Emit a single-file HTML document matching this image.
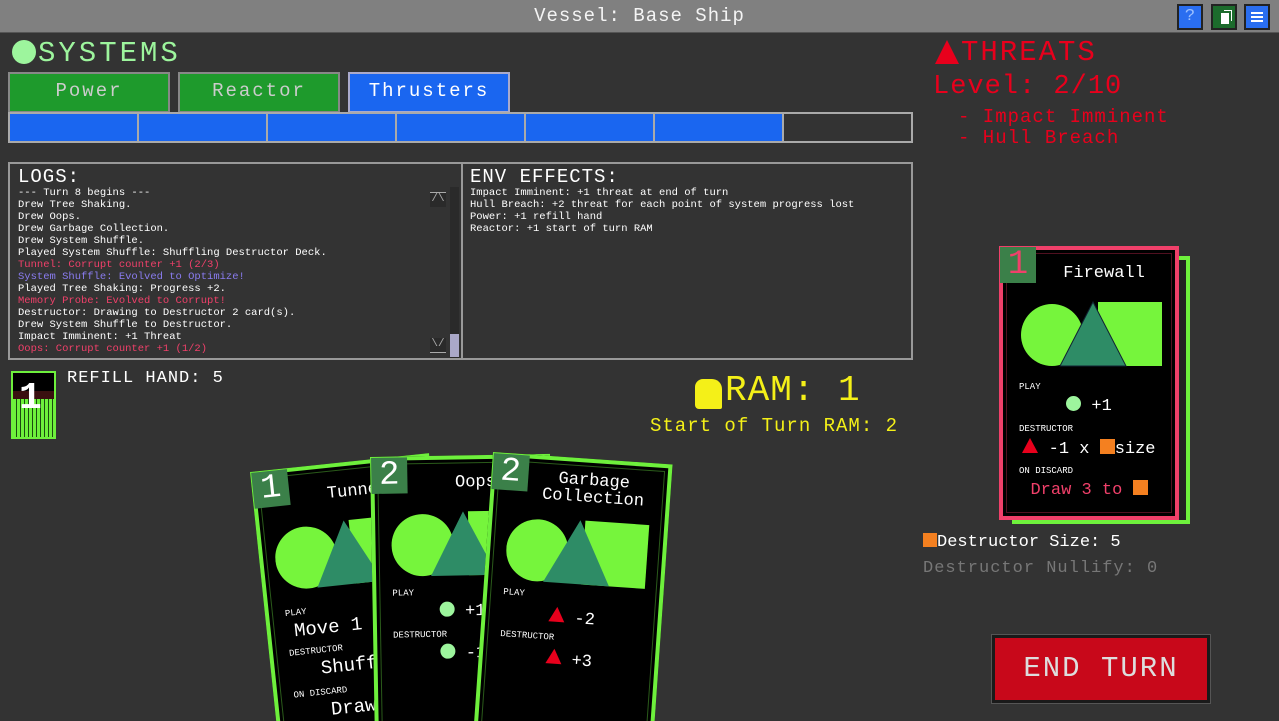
<!DOCTYPE html>
<html style="width:1279px;height:721px;overflow:hidden"><head><meta charset="utf-8"><style>
*{margin:0;padding:0;box-sizing:border-box}
body{width:1279px;height:721px;background:#333;overflow:hidden;position:relative;font-family:"Liberation Mono","DejaVu Sans Mono",monospace;color:#fff}
.a{position:absolute}
.title{left:0;top:0;width:1279px;height:33px;background:#808080;border-bottom:1px solid #555;text-align:center;font-size:19px;line-height:33px;letter-spacing:1px;color:#f4f4f4}
.ib{top:4px;width:26px;height:26px;border:2px solid #222;font-size:17px;text-align:center;line-height:22px}
.tab{top:72px;height:41px;border:2px solid #888;font-size:19px;text-align:center;line-height:34px;letter-spacing:2px}
.seg{top:112px;height:31px;border:2px solid #aaa;background:#1a66f0}
.panel{border:2px solid #999;background:#333}
.log{font-size:10.5px;line-height:12px;white-space:pre;color:#fff}
.card{width:180px;height:278px;background:#000;border:4px solid #6ef03c}
.card .in{position:absolute;left:3px;top:3px;right:3px;bottom:3px;border:1px solid #2a5a1a}
.badge{position:absolute;left:-3px;top:-3px;width:36px;height:36px;background:#3b8049;color:#fff;font-size:34px;line-height:36px;text-align:center}
.ct{position:absolute;left:34px;right:4px;top:12px;text-align:center;font-size:17px;line-height:17px;color:#fff}
.lb{position:absolute;left:16px;font-size:9px;color:#fff}
.ln{position:absolute;left:0;right:0;text-align:center;font-size:17px;color:#fff}
.dot{display:inline-block;width:15px;height:15px;border-radius:50%;background:#9df59d;vertical-align:-1px}
.tri{display:inline-block;width:0;height:0;border-left:8px solid transparent;border-right:8px solid transparent;border-bottom:15px solid #e8001c;vertical-align:0}
.sq{display:inline-block;width:15px;height:15px;background:#f48020;vertical-align:-1px}
</style></head><body>
<div class="a title">Vessel: Base Ship</div>
<div class="a ib" style="left:1177px;background:#2a6ef0;color:#9cc0ff">?</div>
<div class="a ib" style="left:1211px;background:#1c6b2c">
<div class="a" style="left:8px;top:7px;width:8px;height:11px;background:#fff"></div><div class="a" style="left:11px;top:4px;width:8px;height:11px;border:1px solid #fff;border-left:none;border-bottom:none"></div></div>
<div class="a ib" style="left:1244px;background:#2a6ef0">
<div class="a" style="left:5px;top:6px;width:12px;height:2px;background:#fff;box-shadow:0 4px #fff,0 8px #fff"></div></div>

<div class="a" style="left:12px;top:40px;width:24px;height:24px;border-radius:50%;background:#9df59d"></div>
<div class="a" style="left:38px;top:37px;font-size:29px;color:#9df59d;letter-spacing:3px">SYSTEMS</div>
<div class="a tab" style="left:8px;width:162px;background:#1e9a2c;color:#ccc">Power</div>
<div class="a tab" style="left:178px;width:162px;background:#1e9a2c;color:#ccc">Reactor</div>
<div class="a tab" style="left:348px;width:162px;background:#1a66f0;color:#fff;border-color:#aac">Thrusters</div>
<div class="a seg" style="left:8px;width:131px"></div>
<div class="a seg" style="left:137px;width:131px"></div>
<div class="a seg" style="left:266px;width:131px"></div>
<div class="a seg" style="left:395px;width:131px"></div>
<div class="a seg" style="left:524px;width:131px"></div>
<div class="a seg" style="left:653px;width:131px"></div>
<div class="a seg" style="left:782px;width:131px;background:#333"></div>

<div class="a panel" style="left:8px;top:162px;width:455px;height:198px"></div>
<div class="a panel" style="left:461px;top:162px;width:452px;height:198px"></div>
<div class="a" style="left:18px;top:166px;font-size:19px;letter-spacing:1px">LOGS:</div>
<div class="a log" style="left:18px;top:187px">--- Turn 8 begins ---
Drew Tree Shaking.
Drew Oops.
Drew Garbage Collection.
Drew System Shuffle.
Played System Shuffle: Shuffling Destructor Deck.
<span style="color:#f0406a">Tunnel: Corrupt counter +1 (2/3)</span>
<span style="color:#8a7cf0">System Shuffle: Evolved to Optimize!</span>
Played Tree Shaking: Progress +2.
<span style="color:#f0406a">Memory Probe: Evolved to Corrupt!</span>
Destructor: Drawing to Destructor 2 card(s).
Drew System Shuffle to Destructor.
Impact Imminent: +1 Threat
<span style="color:#f0406a">Oops: Corrupt counter +1 (1/2)</span></div>
<div class="a" style="left:450px;top:187px;width:9px;height:171px;background:#2a2a2a"></div>
<div class="a" style="left:450px;top:334px;width:9px;height:23px;background:#aaa8c8"></div>
<div class="a" style="left:430px;top:192px;width:16px;height:15px;background:#2a2a2a;color:#aaa;font-size:11px;text-align:center;border-top:1px solid #aaa">/\</div>
<div class="a" style="left:430px;top:338px;width:16px;height:15px;background:#2a2a2a;color:#aaa;font-size:11px;text-align:center;border-bottom:1px solid #aaa">\/</div>
<div class="a" style="left:470px;top:166px;font-size:19px;letter-spacing:1px">ENV EFFECTS:</div>
<div class="a log" style="left:470px;top:187px">Impact Imminent: +1 threat at end of turn
Hull Breach: +2 threat for each point of system progress lost
Power: +1 refill hand
Reactor: +1 start of turn RAM</div>

<div class="a" style="left:11px;top:371px;width:45px;height:68px;border:2px solid #6ef03c;background:#6ef03c">
<div class="a" style="left:0;top:0;width:41px;height:26px;background:#000"></div>
<div class="a" style="left:0;top:18px;width:41px;height:8px;background:#3a1010"></div>
<div class="a" style="left:0;top:26px;width:41px;height:38px;background:repeating-linear-gradient(90deg,#6ef03c 0 3px,#1a4a10 3px 4px)"></div>
<div class="a" style="left:6px;top:6px;font-size:38px;line-height:40px;color:#fff;font-weight:bold">1</div></div>
<div class="a" style="left:67px;top:369px;font-size:17px;letter-spacing:1px">REFILL HAND: 5</div>

<div class="a" style="left:695px;top:379px;width:27px;height:30px;background:#f4f018;border-radius:8px 10px 2px 4px"></div>
<div class="a" style="left:725px;top:370px;font-size:36px;color:#f4f018;letter-spacing:1px">RAM: 1</div>
<div class="a" style="left:650px;top:415px;font-size:19px;color:#f4f018;letter-spacing:1px">Start of Turn RAM: 2</div>

<div class="a" style="left:935px;top:40px;width:0;height:0;border-left:12px solid transparent;border-right:12px solid transparent;border-bottom:24px solid #e8001c"></div>
<div class="a" style="left:961px;top:36px;font-size:29px;color:#e8001c;letter-spacing:2px">THREATS</div>
<div class="a" style="left:933px;top:72px;font-size:27px;color:#e8001c;letter-spacing:1px">Level: 2/10</div>
<div class="a" style="left:958px;top:107px;font-size:19px;color:#e8001c;line-height:21px;white-space:pre;letter-spacing:1px">- Impact Imminent
- Hull Breach</div>

<div class="a" style="left:1012px;top:256px;width:178px;height:268px;border:4px solid #6ef03c;background:#222"></div>
<div class="a card" style="left:999px;top:246px;height:274px;border-color:#f0406a"><div class="in" style="border-color:#501020"></div>
<div class="badge" style="color:#f0406a">1</div>
<div class="ct" style="top:15px">Firewall</div>
<svg class="a" style="left:18px;top:50px" width="142" height="68"><circle cx="31" cy="35" r="31" fill="#76f53c"/><rect x="77" y="2" width="64" height="64" fill="#76f53c"/><polygon points="39,66 72,2 105,66" fill="#2e8c66" stroke="#123" stroke-width="1"/></svg>
<div class="lb" style="top:132px">PLAY</div>
<div class="ln" style="top:146px"><span class="dot"></span> +1</div>
<div class="lb" style="top:174px">DESTRUCTOR</div>
<div class="ln" style="top:188px"><span class="tri"></span> -1 x <span class="sq"></span>size</div>
<div class="lb" style="top:216px">ON DISCARD</div>
<div class="ln" style="top:230px;color:#f0406a">Draw 3 to <span class="sq"></span></div>
</div>
<div class="a" style="left:923px;top:533px;font-size:17px"><span class="sq" style="width:14px;height:14px"></span>Destructor Size: 5</div>
<div class="a" style="left:923px;top:559px;font-size:17px;color:#777;letter-spacing:1px">Destructor Nullify: 0</div>

<div class="a" style="left:992px;top:635px;width:218px;height:68px;background:#c8081a;border:3px solid #1a1a1a;outline:1px solid #555;font-size:29px;color:#ddd;text-align:center;line-height:62px;letter-spacing:2px">END TURN</div>

<div class="a card" style="left:250px;top:472px;height:290px;transform:rotate(-6deg);transform-origin:0 0"><div class="in"></div>
<div class="badge">1</div>
<div class="ct" style="top:18px">Tunnel</div>
<svg class="a" style="left:12px;top:52px" width="142" height="68"><circle cx="31" cy="35" r="31" fill="#76f53c"/><rect x="77" y="2" width="64" height="64" fill="#76f53c"/><polygon points="39,66 72,2 105,66" fill="#2e8c66"/></svg>
<div class="lb" style="top:136px">PLAY</div>
<div class="ln" style="top:148px;font-size:19px">Move 1 from</div>
<div class="lb" style="top:176px">DESTRUCTOR</div>
<div class="ln" style="top:188px;font-size:19px">Shuffle</div>
<div class="lb" style="top:218px">ON DISCARD</div>
<div class="ln" style="top:230px;font-size:19px">Draw 1</div>
</div>
<div class="a card" style="left:370px;top:457px;height:290px;transform:rotate(-1deg);transform-origin:0 0"><div class="in"></div>
<div class="badge">2</div>
<div class="ct" style="top:15px">Oops</div>
<svg class="a" style="left:16px;top:50px" width="142" height="68"><circle cx="31" cy="35" r="31" fill="#76f53c"/><rect x="77" y="2" width="64" height="64" fill="#76f53c"/><polygon points="39,66 72,2 105,66" fill="#2e8c66"/></svg>
<div class="lb" style="top:128px">PLAY</div>
<div class="ln" style="top:142px"><span class="dot"></span> +1</div>
<div class="lb" style="top:170px">DESTRUCTOR</div>
<div class="ln" style="top:184px"><span class="dot"></span> -1</div>
</div>
<div class="a card" style="left:493px;top:452px;height:290px;transform:rotate(4deg);transform-origin:0 0"><div class="in"></div>
<div class="badge">2</div>
<div class="ct" style="top:10px;left:30px">Garbage Collection</div>
<svg class="a" style="left:16px;top:56px" width="142" height="68"><circle cx="31" cy="35" r="31" fill="#76f53c"/><rect x="77" y="2" width="64" height="64" fill="#76f53c"/><polygon points="39,66 72,2 105,66" fill="#2e8c66"/></svg>
<div class="lb" style="top:130px">PLAY</div>
<div class="ln" style="top:146px"><span class="tri"></span> -2</div>
<div class="lb" style="top:172px">DESTRUCTOR</div>
<div class="ln" style="top:188px"><span class="tri"></span> +3</div>
</div>
</body></html>
